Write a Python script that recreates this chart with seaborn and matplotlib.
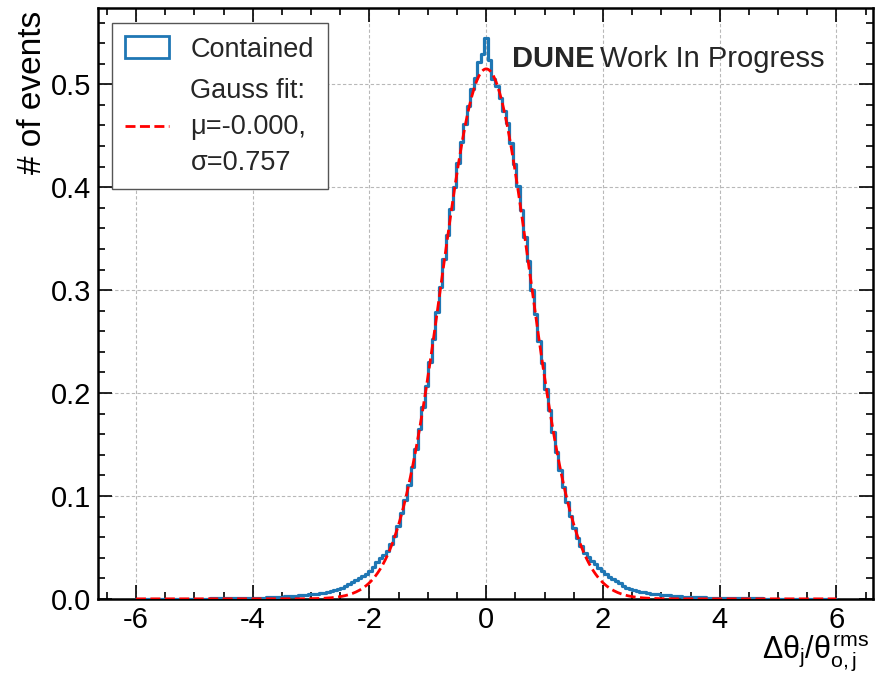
import numpy as np
import pandas as pd
import matplotlib
matplotlib.use("Agg")
import matplotlib.pyplot as plt
import seaborn as sns
from matplotlib.patches import Patch
from matplotlib.lines import Line2D
from matplotlib.ticker import MultipleLocator

# ---------------- data ----------------
bin_range = (-6.0, 6.0)
n_bins = 199

# bin heights (normalised), left half j=-99..-1
density_left = [
    0, 0, 0, 0, 0, 0, 0.0001, 0.0001, 0.0001,
    0.0001, 0.0001, 0.0001, 0.0001, 0.0001,
    0.0002, 0.0002, 0.0002, 0.0002, 0.0003,
    0.0003, 0.0003, 0.0004, 0.0004, 0.0004,
    0.0005, 0.0005, 0.0006, 0.0006, 0.0007,
    0.0007, 0.0008, 0.0008, 0.0009, 0.0010,
    0.0011, 0.0012, 0.0013, 0.0015, 0.0017,
    0.0019, 0.0021, 0.0023, 0.0025, 0.0027,
    0.0029, 0.0031, 0.0033, 0.0036, 0.0040,
    0.0044, 0.0048, 0.0052, 0.0056, 0.0061,
    0.0068, 0.0078, 0.0088, 0.0100, 0.0110,
    0.0125, 0.014, 0.016, 0.018, 0.020,
    0.022, 0.024, 0.027, 0.031, 0.036,
    0.040, 0.043, 0.047, 0.053, 0.061,
    0.071, 0.083, 0.096, 0.111, 0.128,
    0.146, 0.165, 0.186, 0.207, 0.230,
    0.253, 0.279, 0.303, 0.330, 0.354,
    0.379, 0.400, 0.424, 0.444, 0.461,
    0.479, 0.495, 0.506, 0.522, 0.529,
]
# right half j=0..99
density_right = [
    0.545, 0.524, 0.505, 0.498, 0.487,
    0.474, 0.462, 0.443, 0.423, 0.401,
    0.378, 0.352, 0.328, 0.300, 0.277,
    0.251, 0.229, 0.204, 0.184, 0.162,
    0.143, 0.125, 0.109, 0.094, 0.081,
    0.069, 0.059, 0.051, 0.045, 0.041,
    0.037, 0.034, 0.030, 0.027, 0.024,
    0.021, 0.019, 0.017, 0.015, 0.0125,
    0.0110, 0.0095, 0.0087, 0.0078, 0.0070,
    0.0063, 0.0057, 0.0052, 0.0047, 0.0043,
    0.0040, 0.0037, 0.0034, 0.0031, 0.0028,
    0.0025, 0.0023, 0.0021, 0.0019, 0.0018,
    0.0017, 0.0015, 0.0014, 0.0013, 0.0012,
    0.0011, 0.0010, 0.0009, 0.0009, 0.0008,
    0.0007, 0.0007, 0.0006, 0.0006, 0.0005,
    0.0005, 0.0004, 0.0004, 0.0004, 0.0003,
    0.0003, 0.0003, 0.0002, 0.0002, 0.0002,
    0.0002, 0.0001, 0.0001, 0.0001, 0.0001,
    0.0001, 0.0001, 0.0001, 0.0001, 0,
    0, 0, 0, 0, 0,
]

fit_mu = -0.000
fit_sigma = 0.757
fit_amp = 0.515

x_ticks = [-6, -4, -2, 0, 2, 4, 6]
y_ticks = [0.0, 0.1, 0.2, 0.3, 0.4, 0.5]

hist_label = "Contained"
fit_label = "Gauss fit:\n\u03bc=-0.000,\n\u03c3=0.757"
x_label = r"$\Delta\theta_{j}/\theta^{rms}_{o,j}$"
y_label = "# of events"

# ---------------- style ----------------
sns.set_theme(style="ticks")
FONT = ["Liberation Sans", "DejaVu Sans"]
plt.rcParams["font.family"] = FONT
plt.rcParams["mathtext.fontset"] = "custom"
plt.rcParams["mathtext.rm"] = "Liberation Sans"
plt.rcParams["mathtext.it"] = "Liberation Sans"
plt.rcParams["mathtext.bf"] = "Liberation Sans:bold"
plt.rcParams["axes.unicode_minus"] = False

BLUE = "#1f77b4"
RED = "#ff0000"

fig = plt.figure(figsize=(8.75, 6.79), dpi=100)
ax = fig.add_axes([0.112, 0.118, 0.886, 0.870])

edges = np.linspace(bin_range[0], bin_range[1], n_bins + 1)
centers = 0.5 * (edges[:-1] + edges[1:])
heights = np.array(density_left + density_right, dtype=float)
df = pd.DataFrame({"x": centers, "w": heights})

sns.histplot(data=df, x="x", weights="w", bins=list(edges), element="step",
             fill=False, color=BLUE, linewidth=2.3, ax=ax, zorder=3)

xf = np.linspace(bin_range[0], bin_range[1], 600)
yf = fit_amp * np.exp(-0.5 * ((xf - fit_mu) / fit_sigma) ** 2)
sns.lineplot(x=xf, y=yf, color=RED, linestyle=(0, (3.6, 1.6)), linewidth=2.0,
             ax=ax, zorder=4)

ax.set_xlim(-6.65, 6.63)
ax.set_ylim(0, 0.574)
ax.set_xticks(x_ticks)
ax.set_xticklabels([str(t) for t in x_ticks])
ax.set_yticks(y_ticks)
ax.set_yticklabels([f"{t:.1f}" for t in y_ticks])
ax.xaxis.set_minor_locator(MultipleLocator(0.5))
ax.yaxis.set_minor_locator(MultipleLocator(0.02))
ax.tick_params(which="both", direction="in", top=True, right=True,
               labelsize=21, width=1.2, colors="black")
ax.tick_params(which="major", length=10, pad=5)
ax.tick_params(which="minor", length=5)
ax.grid(True, which="major", color="#b8b8b8", linestyle=(0, (3, 2)), linewidth=0.8)
ax.set_axisbelow(True)
for s in ax.spines.values():
    s.set_linewidth(1.8)
    s.set_color("black")

ax.set_xlabel(x_label, loc="right", fontsize=22, color="black")
ax.xaxis.set_label_coords(0.995, -0.059)
ax.set_ylabel(y_label, loc="top", fontsize=24, color="black")
ax.yaxis.set_label_coords(-0.064, 0.995)

handles = [Patch(facecolor="none", edgecolor=BLUE, linewidth=2.0),
           Line2D([0], [0], color=RED, linestyle=(0, (3.6, 1.6)), linewidth=2.0)]
leg = ax.legend(handles, [hist_label, fit_label], loc="upper left",
                bbox_to_anchor=(0.018, 0.975), fontsize=19.5, frameon=True,
                fancybox=False, edgecolor="#555555", framealpha=1.0,
                handlelength=1.6, handleheight=0.85, handletextpad=0.8,
                labelspacing=0.55, borderpad=0.5, borderaxespad=0)
leg.get_frame().set_linewidth(1.0)
for t in leg.get_texts():
    t.set_linespacing(1.5)

ax.text(0.534, 0.914, "DUNE", transform=ax.transAxes, fontsize=21,
        fontweight="bold", va="center", ha="left")
ax.text(0.647, 0.914, "Work In Progress", transform=ax.transAxes, fontsize=21,
        va="center", ha="left")

fig.savefig("out.png", dpi=100)
